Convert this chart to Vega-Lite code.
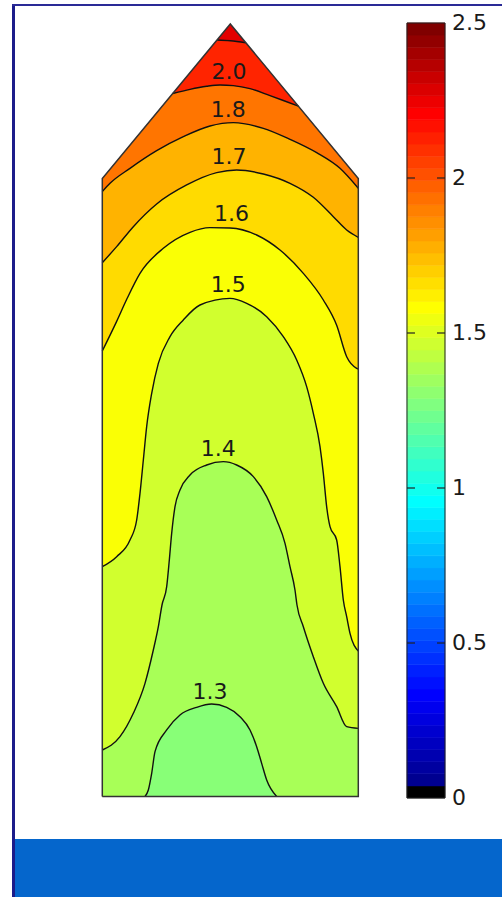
{
  "$schema": "https://vega.github.io/schema/vega-lite/v6.json",
  "width": 502,
  "height": 897,
  "autosize": {"type": "none"},
  "padding": 0,
  "background": "white",
  "config": {"view": {"stroke": null}},
  "datasets": {
    "polys": [
      {"b": "P", "x": 0, "y": 2.4}, {"b": "P", "x": 0.5, "y": 3.0}, {"b": "P", "x": 1, "y": 2.4},
      {"b": "A", "x": 0, "y": 2.4}, {"b": "A", "x": 0.4483, "y": 2.938}, {"b": "A", "x": 0.5, "y": 2.935}, {"b": "A", "x": 0.5608, "y": 2.927}, {"b": "A", "x": 1, "y": 2.4},
      {"b": "B", "x": 0, "y": 2.4}, {"b": "B", "x": 0.2749, "y": 2.7299}, {"b": "B", "x": 0.3426, "y": 2.7463}, {"b": "B", "x": 0.4077, "y": 2.758}, {"b": "B", "x": 0.4598, "y": 2.7631}, {"b": "B", "x": 0.5118, "y": 2.7605}, {"b": "B", "x": 0.577, "y": 2.7489}, {"b": "B", "x": 0.6551, "y": 2.7217}, {"b": "B", "x": 0.7071, "y": 2.703}, {"b": "B", "x": 0.766, "y": 2.681}, {"b": "B", "x": 1, "y": 2.4}
    ],
    "outline": [
      {"i": 0, "x": 0, "y": 0}, {"i": 1, "x": 0, "y": 2.4}, {"i": 2, "x": 0.5, "y": 3.0}, {"i": 3, "x": 1, "y": 2.4}, {"i": 4, "x": 1, "y": 0}, {"i": 5, "x": 0, "y": 0}
    ],
    "lines": [
      {"lev": "2.2", "x": 0.4483, "y": 2.938}, {"lev": "2.2", "x": 0.5, "y": 2.935}, {"lev": "2.2", "x": 0.5608, "y": 2.927},
      {"lev": "2.0", "x": 0.2749, "y": 2.7299}, {"lev": "2.0", "x": 0.3426, "y": 2.7463}, {"lev": "2.0", "x": 0.4077, "y": 2.758}, {"lev": "2.0", "x": 0.4598, "y": 2.7631}, {"lev": "2.0", "x": 0.5118, "y": 2.7605}, {"lev": "2.0", "x": 0.577, "y": 2.7489}, {"lev": "2.0", "x": 0.6551, "y": 2.7217}, {"lev": "2.0", "x": 0.7071, "y": 2.703}, {"lev": "2.0", "x": 0.766, "y": 2.681},
      {"lev": "1.8", "x": 0, "y": 2.349}, {"lev": "1.8", "x": 0.0301, "y": 2.3812}, {"lev": "1.8", "x": 0.1082, "y": 2.4395}, {"lev": "1.8", "x": 0.2124, "y": 2.5081}, {"lev": "1.8", "x": 0.3165, "y": 2.5624}, {"lev": "1.8", "x": 0.4207, "y": 2.6039}, {"lev": "1.8", "x": 0.5118, "y": 2.6168}, {"lev": "1.8", "x": 0.629, "y": 2.5948}, {"lev": "1.8", "x": 0.7332, "y": 2.5521}, {"lev": "1.8", "x": 0.8374, "y": 2.5003}, {"lev": "1.8", "x": 0.9285, "y": 2.4395}, {"lev": "1.8", "x": 1, "y": 2.3618},
      {"lev": "1.7", "x": 0, "y": 2.0731}, {"lev": "1.7", "x": 0.0561, "y": 2.1353}, {"lev": "1.7", "x": 0.1212, "y": 2.2129}, {"lev": "1.7", "x": 0.2124, "y": 2.301}, {"lev": "1.7", "x": 0.3296, "y": 2.3748}, {"lev": "1.7", "x": 0.4467, "y": 2.4227}, {"lev": "1.7", "x": 0.5249, "y": 2.433}, {"lev": "1.7", "x": 0.629, "y": 2.4175}, {"lev": "1.7", "x": 0.7332, "y": 2.3812}, {"lev": "1.7", "x": 0.8243, "y": 2.3269}, {"lev": "1.7", "x": 0.9025, "y": 2.2518}, {"lev": "1.7", "x": 0.9546, "y": 2.2}, {"lev": "1.7", "x": 1, "y": 2.1715},
      {"lev": "1.6", "x": 0, "y": 1.73}, {"lev": "1.6", "x": 0.0561, "y": 1.845}, {"lev": "1.6", "x": 0.095, "y": 1.93}, {"lev": "1.6", "x": 0.1473, "y": 2.0317}, {"lev": "1.6", "x": 0.2384, "y": 2.1288}, {"lev": "1.6", "x": 0.3426, "y": 2.191}, {"lev": "1.6", "x": 0.4207, "y": 2.2091}, {"lev": "1.6", "x": 0.4988, "y": 2.2078}, {"lev": "1.6", "x": 0.603, "y": 2.1806}, {"lev": "1.6", "x": 0.6941, "y": 2.1223}, {"lev": "1.6", "x": 0.7853, "y": 2.0317}, {"lev": "1.6", "x": 0.8634, "y": 1.9282}, {"lev": "1.6", "x": 0.9155, "y": 1.83}, {"lev": "1.6", "x": 0.9546, "y": 1.708}, {"lev": "1.6", "x": 0.9937, "y": 1.663}, {"lev": "1.6", "x": 1, "y": 1.66},
      {"lev": "1.5", "x": 0, "y": 0.8925}, {"lev": "1.5", "x": 0.0561, "y": 0.9314}, {"lev": "1.5", "x": 0.1082, "y": 0.9961}, {"lev": "1.5", "x": 0.1343, "y": 1.0738}, {"lev": "1.5", "x": 0.1473, "y": 1.1774}, {"lev": "1.5", "x": 0.1603, "y": 1.3068}, {"lev": "1.5", "x": 0.1733, "y": 1.4362}, {"lev": "1.5", "x": 0.1929, "y": 1.5657}, {"lev": "1.5", "x": 0.2189, "y": 1.6822}, {"lev": "1.5", "x": 0.2645, "y": 1.7857}, {"lev": "1.5", "x": 0.3165, "y": 1.8505}, {"lev": "1.5", "x": 0.3816, "y": 1.9087}, {"lev": "1.5", "x": 0.4988, "y": 1.9346}, {"lev": "1.5", "x": 0.564, "y": 1.9152}, {"lev": "1.5", "x": 0.6421, "y": 1.8634}, {"lev": "1.5", "x": 0.7071, "y": 1.7857}, {"lev": "1.5", "x": 0.7593, "y": 1.6951}, {"lev": "1.5", "x": 0.7983, "y": 1.5916}, {"lev": "1.5", "x": 0.8243, "y": 1.488}, {"lev": "1.5", "x": 0.8504, "y": 1.3586}, {"lev": "1.5", "x": 0.8634, "y": 1.255}, {"lev": "1.5", "x": 0.8764, "y": 1.1256}, {"lev": "1.5", "x": 0.8895, "y": 1.0479}, {"lev": "1.5", "x": 0.9155, "y": 0.9961}, {"lev": "1.5", "x": 0.9285, "y": 0.8925}, {"lev": "1.5", "x": 0.9415, "y": 0.7631}, {"lev": "1.5", "x": 0.9546, "y": 0.6984}, {"lev": "1.5", "x": 0.9676, "y": 0.6337}, {"lev": "1.5", "x": 1, "y": 0.565},
      {"lev": "1.4", "x": 0, "y": 0.1806}, {"lev": "1.4", "x": 0.0691, "y": 0.2323}, {"lev": "1.4", "x": 0.1212, "y": 0.323}, {"lev": "1.4", "x": 0.1668, "y": 0.4395}, {"lev": "1.4", "x": 0.1993, "y": 0.5689}, {"lev": "1.4", "x": 0.2189, "y": 0.6595}, {"lev": "1.4", "x": 0.2332, "y": 0.7437}, {"lev": "1.4", "x": 0.2515, "y": 0.8149}, {"lev": "1.4", "x": 0.2618, "y": 0.9184}, {"lev": "1.4", "x": 0.271, "y": 1.022}, {"lev": "1.4", "x": 0.284, "y": 1.1256}, {"lev": "1.4", "x": 0.3035, "y": 1.1903}, {"lev": "1.4", "x": 0.3426, "y": 1.2485}, {"lev": "1.4", "x": 0.4077, "y": 1.2874}, {"lev": "1.4", "x": 0.4728, "y": 1.3003}, {"lev": "1.4", "x": 0.5249, "y": 1.2874}, {"lev": "1.4", "x": 0.59, "y": 1.2421}, {"lev": "1.4", "x": 0.6421, "y": 1.1644}, {"lev": "1.4", "x": 0.6811, "y": 1.0738}, {"lev": "1.4", "x": 0.7137, "y": 0.9832}, {"lev": "1.4", "x": 0.7332, "y": 0.8925}, {"lev": "1.4", "x": 0.7527, "y": 0.8019}, {"lev": "1.4", "x": 0.7605, "y": 0.7437}, {"lev": "1.4", "x": 0.7853, "y": 0.6595}, {"lev": "1.4", "x": 0.8243, "y": 0.543}, {"lev": "1.4", "x": 0.8634, "y": 0.4395}, {"lev": "1.4", "x": 0.9155, "y": 0.3489}, {"lev": "1.4", "x": 0.9546, "y": 0.2712}, {"lev": "1.4", "x": 1, "y": 0.2647},
      {"lev": "1.3", "x": 0.1668, "y": 0}, {"lev": "1.3", "x": 0.1798, "y": 0.0252}, {"lev": "1.3", "x": 0.1929, "y": 0.09}, {"lev": "1.3", "x": 0.2059, "y": 0.1741}, {"lev": "1.3", "x": 0.2515, "y": 0.2583}, {"lev": "1.3", "x": 0.3035, "y": 0.3165}, {"lev": "1.3", "x": 0.3686, "y": 0.3463}, {"lev": "1.3", "x": 0.4272, "y": 0.3592}, {"lev": "1.3", "x": 0.4858, "y": 0.3463}, {"lev": "1.3", "x": 0.5379, "y": 0.31}, {"lev": "1.3", "x": 0.577, "y": 0.2583}, {"lev": "1.3", "x": 0.603, "y": 0.1935}, {"lev": "1.3", "x": 0.6225, "y": 0.1288}, {"lev": "1.3", "x": 0.6421, "y": 0.0641}, {"lev": "1.3", "x": 0.6811, "y": 0}
    ],
    "labels": [
      {"x": 0.4949, "y": 2.8117, "s": "2.0"}, {"x": 0.4922, "y": 2.666, "s": "1.8"}, {"x": 0.4949, "y": 2.4816, "s": "1.7"}, {"x": 0.5047, "y": 2.2621, "s": "1.6"}, {"x": 0.4922, "y": 1.9883, "s": "1.5"}, {"x": 0.4531, "y": 1.3495, "s": "1.4"}, {"x": 0.4207, "y": 0.4039, "s": "1.3"}
    ],
    "cbar": [
      {"c0": 0, "c1": 0.0391}, {"c0": 0.0391, "c1": 0.0781}, {"c0": 0.0781, "c1": 0.1172}, {"c0": 0.1172, "c1": 0.1563}, {"c0": 0.1563, "c1": 0.1953}, {"c0": 0.1953, "c1": 0.2344}, {"c0": 0.2344, "c1": 0.2734}, {"c0": 0.2734, "c1": 0.3125}, {"c0": 0.3125, "c1": 0.3516}, {"c0": 0.3516, "c1": 0.3906}, {"c0": 0.3906, "c1": 0.4297}, {"c0": 0.4297, "c1": 0.4688}, {"c0": 0.4688, "c1": 0.5078}, {"c0": 0.5078, "c1": 0.5469}, {"c0": 0.5469, "c1": 0.5859}, {"c0": 0.5859, "c1": 0.625}, {"c0": 0.625, "c1": 0.6641}, {"c0": 0.6641, "c1": 0.7031}, {"c0": 0.7031, "c1": 0.7422}, {"c0": 0.7422, "c1": 0.7813}, {"c0": 0.7813, "c1": 0.8203}, {"c0": 0.8203, "c1": 0.8594}, {"c0": 0.8594, "c1": 0.8984}, {"c0": 0.8984, "c1": 0.9375}, {"c0": 0.9375, "c1": 0.9766}, {"c0": 0.9766, "c1": 1.0156}, {"c0": 1.0156, "c1": 1.0547}, {"c0": 1.0547, "c1": 1.0938}, {"c0": 1.0938, "c1": 1.1328}, {"c0": 1.1328, "c1": 1.1719}, {"c0": 1.1719, "c1": 1.2109}, {"c0": 1.2109, "c1": 1.25}, {"c0": 1.25, "c1": 1.2891}, {"c0": 1.2891, "c1": 1.3281}, {"c0": 1.3281, "c1": 1.3672}, {"c0": 1.3672, "c1": 1.4063}, {"c0": 1.4063, "c1": 1.4453}, {"c0": 1.4453, "c1": 1.4844}, {"c0": 1.4844, "c1": 1.5234}, {"c0": 1.5234, "c1": 1.5625}, {"c0": 1.5625, "c1": 1.6016}, {"c0": 1.6016, "c1": 1.6406}, {"c0": 1.6406, "c1": 1.6797}, {"c0": 1.6797, "c1": 1.7188}, {"c0": 1.7188, "c1": 1.7578}, {"c0": 1.7578, "c1": 1.7969}, {"c0": 1.7969, "c1": 1.8359}, {"c0": 1.8359, "c1": 1.875}, {"c0": 1.875, "c1": 1.9141}, {"c0": 1.9141, "c1": 1.9531}, {"c0": 1.9531, "c1": 1.9922}, {"c0": 1.9922, "c1": 2.0313}, {"c0": 2.0313, "c1": 2.0703}, {"c0": 2.0703, "c1": 2.1094}, {"c0": 2.1094, "c1": 2.1484}, {"c0": 2.1484, "c1": 2.1875}, {"c0": 2.1875, "c1": 2.2266}, {"c0": 2.2266, "c1": 2.2656}, {"c0": 2.2656, "c1": 2.3047}, {"c0": 2.3047, "c1": 2.3438}, {"c0": 2.3438, "c1": 2.3828}, {"c0": 2.3828, "c1": 2.4219}, {"c0": 2.4219, "c1": 2.4609}, {"c0": 2.4609, "c1": 2.5}
    ],
    "ticks": [{"t": 0.5}, {"t": 1}, {"t": 1.5}, {"t": 2}],
    "ticklabels": [{"t": 0, "s": "0"}, {"t": 0.5, "s": "0.5"}, {"t": 1, "s": "1"}, {"t": 1.5, "s": "1.5"}, {"t": 2, "s": "2"}, {"t": 2.5, "s": "2.5"}],
    "frame": [{"k": 1}]
  },
  "layer": [
    {
      "encoding": {
        "x": {"field": "x", "type": "quantitative", "scale": {"domain": [-0.39961, 1.56133], "nice": false, "zero": false}, "axis": null},
        "y": {"field": "y", "type": "quantitative", "scale": {"domain": [-0.39029, 3.0932], "nice": false, "zero": false}, "axis": null}
      },
      "layer": [
        {
          "data": {"name": "polys"}, "transform": [{"filter": "datum.b == 'P'"}],
          "mark": {"type": "area", "interpolate": "linear"},
          "encoding": {"y2": {"datum": 0}, "color": {"datum": 2.25, "type": "quantitative", "legend": null, "scale": {"type": "linear", "domain": [0, 0.039, 0.0391, 0.3125, 0.9375, 1.5625, 2.1875, 2.4609], "range": ["#000000", "#000000", "#000090", "#0000ff", "#00ffff", "#ffff00", "#ff0000", "#800000"], "interpolate": "rgb"}}}
        },
        {
          "data": {"name": "polys"}, "transform": [{"filter": "datum.b == 'A'"}],
          "mark": {"type": "area", "interpolate": "linear"},
          "encoding": {"y2": {"datum": 0}, "color": {"datum": 2.1, "type": "quantitative"}}
        },
        {
          "data": {"name": "polys"}, "transform": [{"filter": "datum.b == 'B'"}],
          "mark": {"type": "area", "interpolate": "linear"},
          "encoding": {"y2": {"datum": 0}, "color": {"datum": 1.9, "type": "quantitative"}}
        },
        {
          "data": {"name": "lines"}, "transform": [{"filter": "datum.lev == '1.8'"}],
          "mark": {"type": "area", "interpolate": "monotone"},
          "encoding": {"y2": {"datum": 0}, "color": {"datum": 1.75, "type": "quantitative"}}
        },
        {
          "data": {"name": "lines"}, "transform": [{"filter": "datum.lev == '1.7'"}],
          "mark": {"type": "area", "interpolate": "monotone"},
          "encoding": {"y2": {"datum": 0}, "color": {"datum": 1.65, "type": "quantitative"}}
        },
        {
          "data": {"name": "lines"}, "transform": [{"filter": "datum.lev == '1.6'"}],
          "mark": {"type": "area", "interpolate": "monotone"},
          "encoding": {"y2": {"datum": 0}, "color": {"datum": 1.55, "type": "quantitative"}}
        },
        {
          "data": {"name": "lines"}, "transform": [{"filter": "datum.lev == '1.5'"}],
          "mark": {"type": "area", "interpolate": "monotone"},
          "encoding": {"y2": {"datum": 0}, "color": {"datum": 1.45, "type": "quantitative"}}
        },
        {
          "data": {"name": "lines"}, "transform": [{"filter": "datum.lev == '1.4'"}],
          "mark": {"type": "area", "interpolate": "monotone"},
          "encoding": {"y2": {"datum": 0}, "color": {"datum": 1.35, "type": "quantitative"}}
        },
        {
          "data": {"name": "lines"}, "transform": [{"filter": "datum.lev == '1.3'"}],
          "mark": {"type": "area", "interpolate": "monotone"},
          "encoding": {"y2": {"datum": 0}, "color": {"datum": 1.27, "type": "quantitative"}}
        },
        {
          "data": {"name": "lines"},
          "mark": {"type": "line", "interpolate": "monotone", "color": "#111111", "strokeWidth": 1.4},
          "encoding": {"detail": {"field": "lev", "type": "nominal"}}
        },
        {
          "data": {"name": "outline"},
          "mark": {"type": "line", "interpolate": "linear", "color": "#333333", "strokeWidth": 1.5},
          "encoding": {"order": {"field": "i", "type": "quantitative"}}
        },
        {
          "data": {"name": "labels"},
          "mark": {"type": "text", "font": "DejaVu Sans", "fontSize": 22, "color": "#1a1a1a", "align": "center", "baseline": "middle"},
          "encoding": {"text": {"field": "s", "type": "nominal"}}
        }
      ]
    },
    {
      "layer": [
        {
          "data": {"name": "frame"},
          "mark": {"type": "rect", "color": "#1c1c8a"},
          "encoding": {
            "x": {"datum": -10.3947, "type": "quantitative", "scale": {"domain": [-10.7105, 2.5], "nice": false, "zero": false}, "axis": null}, "x2": {"datum": -10.3158},
            "y": {"datum": -0.31935, "type": "quantitative", "scale": {"domain": [-0.31935, 2.57419], "nice": false, "zero": false}, "axis": null}, "y2": {"datum": 2.56129}
          }
        },
        {
          "data": {"name": "frame"},
          "mark": {"type": "rect", "color": "#2a2a96"},
          "encoding": {
            "x": {"datum": -10.3947, "type": "quantitative"}, "x2": {"datum": 2.5},
            "y": {"datum": 2.55484, "type": "quantitative"}, "y2": {"datum": 2.56129}
          }
        },
        {
          "data": {"name": "frame"},
          "mark": {"type": "rect", "color": "#0566cc"},
          "encoding": {
            "x": {"datum": -10.3158, "type": "quantitative"}, "x2": {"datum": 2.5},
            "y": {"datum": -0.31935, "type": "quantitative"}, "y2": {"datum": -0.13226}
          }
        },
        {
          "data": {"name": "cbar"},
          "mark": {"type": "rect", "strokeWidth": 0.6},
          "encoding": {
            "x": {"datum": 0, "type": "quantitative"},
            "x2": {"datum": 1},
            "y": {"field": "c0", "type": "quantitative"},
            "y2": {"field": "c1"},
            "color": {"field": "c0", "type": "quantitative", "legend": null},
            "stroke": {"field": "c0", "type": "quantitative", "legend": null, "scale": {"type": "linear", "domain": [0, 0.039, 0.0391, 0.3125, 0.9375, 1.5625, 2.1875, 2.4609], "range": ["#000000", "#000000", "#000090", "#0000ff", "#00ffff", "#ffff00", "#ff0000", "#800000"], "interpolate": "rgb"}}
          }
        },
        {
          "data": {"name": "frame"},
          "mark": {"type": "rect", "fill": null, "fillOpacity": 0, "stroke": "#222222", "strokeWidth": 1},
          "encoding": {
            "x": {"datum": 0, "type": "quantitative"}, "x2": {"datum": 1},
            "y": {"datum": 0, "type": "quantitative"}, "y2": {"datum": 2.5}
          }
        },
        {
          "data": {"name": "ticks"},
          "mark": {"type": "rule", "color": "#222222", "strokeWidth": 1.2},
          "encoding": {"x": {"datum": 0, "type": "quantitative"}, "x2": {"datum": 0.21}, "y": {"field": "t", "type": "quantitative"}}
        },
        {
          "data": {"name": "ticks"},
          "mark": {"type": "rule", "color": "#222222", "strokeWidth": 1.2},
          "encoding": {"x": {"datum": 0.79, "type": "quantitative"}, "x2": {"datum": 1}, "y": {"field": "t", "type": "quantitative"}}
        },
        {
          "data": {"name": "ticklabels"},
          "mark": {"type": "text", "font": "DejaVu Sans", "fontSize": 22, "color": "#1a1a1a", "align": "left", "baseline": "middle"},
          "encoding": {"x": {"datum": 1.184, "type": "quantitative"}, "y": {"field": "t", "type": "quantitative"}, "text": {"field": "s", "type": "nominal"}}
        }
      ]
    }
  ],
  "resolve": {"scale": {"x": "independent", "y": "independent"}}
}
